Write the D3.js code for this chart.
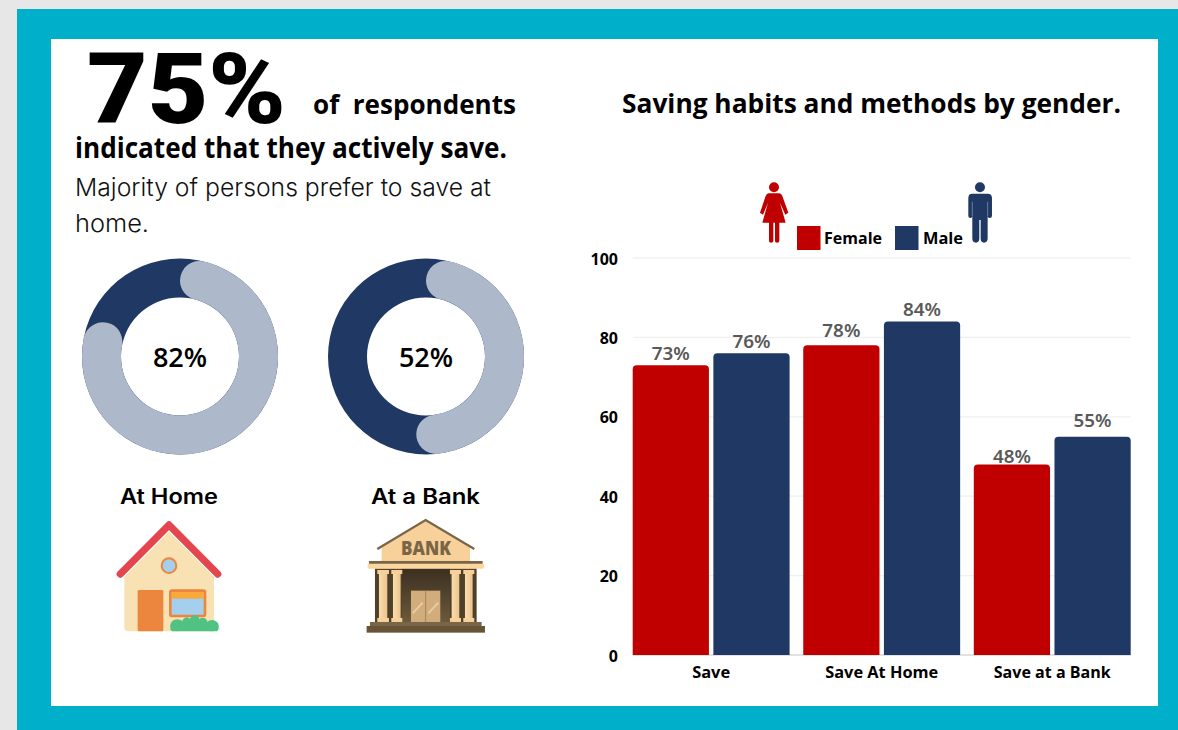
<!DOCTYPE html>
<html>
<head>
<meta charset="utf-8">
<script src="https://cdn.jsdelivr.net/npm/d3@7/dist/d3.min.js"></script>
<style>
  html, body { margin: 0; padding: 0; background: #e7e7e7; overflow: hidden; }
  svg { display: block; }
  text { font-family: "Open Sans", sans-serif; fill: #000; white-space: pre; }
  .head { font-family: Inter, sans-serif; }
  .big { font-family: Roboto, sans-serif; }
</style>
</head>
<body>
<svg id="page" width="1178" height="730"></svg>
<script>
// Chart values
const categories = ["Save", "Save At Home", "Save at a Bank"];
const seriesNames = ["Female", "Male"];
const femaleValues = [73, 78, 48];
const maleValues = [76, 84, 55];
const tickValues = [0, 20, 40, 60, 80, 100];
const donutValues = [82, 52];
const donutLabels = ["At Home", "At a Bank"];
const headlineValue = 75;

const RED = "#c00000", NAVY = "#203864", PALE = "#adb9ca";
const svg = d3.select("#page");

// Page frame
svg.append("rect").attr("x", 17).attr("y", 9).attr("width", 1161).attr("height", 721).attr("fill", "#00afc9");
svg.append("rect").attr("x", 51).attr("y", 39).attr("width", 1107).attr("height", 667).attr("fill", "#fff");

// Places one line of text and stretches it to the width it should occupy
function line(txt, x, y, size, weight, width, cls) {
  const t = svg.append("text").attr("x", x).attr("y", y)
    .attr("font-size", size).attr("font-weight", weight).text(txt);
  if (cls) t.attr("class", cls);
  if (width) t.attr("textLength", width).attr("lengthAdjust", "spacingAndGlyphs");
  return t;
}
line(headlineValue + "%", 87, 123, 98, 900, 199, "big");
line("of  respondents", 313, 114, 27, 700, 203);
line("indicated that they actively save.", 75, 158, 28, 700, 432);
line("Majority of persons prefer to save at", 75, 196, 24, 300, 416, "head").style("fill", "#111");
line("home.", 75, 232, 24, 300, 74, "head").style("fill", "#111");
line("Saving habits and methods by gender.", 622, 113, 27, 700, 499);

// Progress rings
const ringCentres = [180, 426];
const ringY = 356.5;
const arcGen = d3.arc().innerRadius(59).outerRadius(98).cornerRadius(19.5);
const share = d3.scaleLinear().domain([0, 100]).range([0, 2 * Math.PI]);
const rings = svg.selectAll("g.ring").data(donutValues).join("g")
  .attr("class", "ring")
  .attr("transform", (d, i) => `translate(${ringCentres[i]},${ringY})`);
rings.append("path").attr("d", d3.arc().innerRadius(59).outerRadius(98)({ startAngle: 0, endAngle: 2 * Math.PI })).attr("fill", NAVY);
rings.append("path").attr("d", d => arcGen({ startAngle: 0, endAngle: share(d) })).attr("fill", PALE);
rings.append("text").attr("text-anchor", "middle").attr("y", 10.5)
  .attr("font-size", 27).attr("font-weight", 600).text(d => d + "%");

const ringNameX = [120, 371], ringNameW = [98, 109];
donutLabels.forEach((d, i) => line(d, ringNameX[i], 504, 21, 600, ringNameW[i], "head"));

// House illustration
const house = svg.append("g").attr("transform", "translate(70,470) scale(0.3333)");
house.append("path").attr("d", "M163,320 L297,185 L432,320 V470 Q432,484 418,484 H177 Q163,484 163,470 Z").attr("fill", "#f8e1b2");
house.append("path").attr("d", "M151,312 L297,165 L443,312").attr("fill", "none").attr("stroke", "#e3464f").attr("stroke-width", 22).attr("stroke-linecap", "round").attr("stroke-linejoin", "round");
house.append("circle").attr("cx", 297).attr("cy", 287).attr("r", 22).attr("fill", "#a5cfee").attr("stroke", "#ec853e").attr("stroke-width", 6);
house.append("rect").attr("x", 203).attr("y", 360).attr("width", 77).attr("height", 124).attr("rx", 4).attr("fill", "#ec853e");
house.append("rect").attr("x", 301).attr("y", 362).attr("width", 104).attr("height", 76).attr("rx", 5).attr("fill", "#a5cfee").attr("stroke", "#ec853e").attr("stroke-width", 8);
house.append("rect").attr("x", 305).attr("y", 366).attr("width", 96).attr("height", 20).attr("fill", "#f9a83a");
const bush = [[322, 466, 21, 18], [350, 458, 14, 16], [374, 452, 15, 17], [398, 458, 14, 15], [426, 467, 20, 17]];
house.selectAll("ellipse").data(bush).join("ellipse")
  .attr("cx", d => d[0]).attr("cy", d => d[1]).attr("rx", d => d[2]).attr("ry", d => d[3]).attr("fill", "#50c283");
house.append("rect").attr("x", 301).attr("y", 463).attr("width", 145).attr("height", 21).attr("rx", 10).attr("fill", "#50c283");

// Bank illustration
const bank = svg.append("g").attr("transform", "translate(70,470) scale(0.3333)");
const BROWN = "#7a6646", SAND = "#f7d09a";
const defs = svg.append("defs");
const hall = defs.append("linearGradient").attr("id", "hall").attr("x1", 0).attr("y1", 0).attr("x2", 0).attr("y2", 1);
hall.append("stop").attr("offset", 0).attr("stop-color", "#3b2f20");
hall.append("stop").attr("offset", 1).attr("stop-color", "#6e5a3c");
const pillar = defs.append("linearGradient").attr("id", "pillar");
pillar.append("stop").attr("offset", 0).attr("stop-color", "#fbdcae");
pillar.append("stop").attr("offset", 1).attr("stop-color", "#ecc48d");
bank.append("path").attr("d", "M935,232 L1067,153 L1200,232 V274 H935 Z").attr("fill", SAND);
bank.append("path").attr("d", "M922,237 L1067,150 L1213,237").attr("fill", "none").attr("stroke", BROWN).attr("stroke-width", 7);
bank.append("text").attr("x", 1068).attr("y", 256).attr("text-anchor", "middle").attr("font-size", 56).attr("font-weight", 800)
  .attr("textLength", 150).attr("lengthAdjust", "spacingAndGlyphs").style("fill", BROWN).text("BANK");
bank.append("rect").attr("x", 897).attr("y", 273).attr("width", 341).attr("height", 9).attr("fill", BROWN);
bank.append("rect").attr("x", 915).attr("y", 295).attr("width", 305).attr("height", 165).attr("fill", "#4f4029");
bank.append("rect").attr("x", 995).attr("y", 295).attr("width", 145).attr("height", 165).attr("fill", "url(#hall)");
bank.append("rect").attr("x", 893).attr("y", 281).attr("width", 349).attr("height", 15).attr("rx", 4).attr("fill", "#fbd69f");
const columns = [[927, 25], [969, 23], [1145, 23], [1185, 23]];
columns.forEach(c => {
  bank.append("rect").attr("x", c[0]).attr("y", 300).attr("width", c[1]).attr("height", 156).attr("fill", "url(#pillar)");
  bank.append("rect").attr("x", c[0] - 5).attr("y", 300).attr("width", c[1] + 10).attr("height", 12).attr("fill", SAND);
  bank.append("rect").attr("x", c[0] - 5).attr("y", 444).attr("width", c[1] + 10).attr("height", 12).attr("fill", SAND);
});
bank.append("rect").attr("x", 1023).attr("y", 362).attr("width", 88).attr("height", 94).attr("fill", "#d2ad7c");
bank.append("path").attr("d", "M1067,362 V456").attr("stroke", "#8c734f").attr("stroke-width", 2);
bank.append("path").attr("d", "M1028,430 L1058,398 M1075,430 L1105,398").attr("stroke", "#e6cda4").attr("stroke-width", 6);
bank.append("rect").attr("x", 900).attr("y", 456).attr("width", 335).attr("height", 13).attr("fill", BROWN);
bank.append("rect").attr("x", 890).attr("y", 468).attr("width", 355).attr("height", 20).attr("fill", "#675436");

// Bar chart
const y = d3.scaleLinear().domain([0, 100]).range([655, 258]);
const x0 = d3.scaleBand().domain(categories).range([632.7, 1130.7]).paddingInner(0.08);
const x1 = d3.scaleBand().domain(seriesNames).range([0, x0.bandwidth()]).paddingInner(0.055);
const colour = d3.scaleOrdinal().domain(seriesNames).range([RED, NAVY]);

svg.append("g").selectAll("line").data(tickValues).join("line")
  .attr("x1", 632.7).attr("x2", 1130.7).attr("y1", d => y(d)).attr("y2", d => y(d))
  .attr("stroke-width", 1.3)
  .attr("stroke", d => d === 0 ? "#d9d9d9" : "#f0f0f0");

const yAxis = svg.append("g").attr("transform", "translate(625,1)")
  .call(d3.axisLeft(y).tickValues(tickValues).tickSize(0).tickPadding(7));
yAxis.select(".domain").remove();
yAxis.selectAll("text").attr("font-size", 16).attr("font-weight", 700).attr("font-family", '"Open Sans", sans-serif');

const xAxis = svg.append("g").attr("transform", "translate(0,655)")
  .call(d3.axisBottom(x0).tickSize(0).tickPadding(12));
xAxis.select(".domain").remove();
xAxis.selectAll("text").attr("font-size", 16).attr("font-weight", 700)
  .attr("font-family", '"Open Sans", sans-serif')
  .attr("textLength", (d, i) => [38, 113, 117][i]).attr("lengthAdjust", "spacingAndGlyphs");

// Bars with slightly rounded tops
const topRadius = 4;
const barRows = categories.flatMap((c, i) => [
  { c, s: "Female", v: femaleValues[i], lift: [5, 8, 1.5][i] },
  { c, s: "Male", v: maleValues[i], lift: [5, 5.5, 9.5][i] }
]);
function barPath(d) {
  const l = x0(d.c) + x1(d.s), r = l + x1.bandwidth(), t = y(d.v), b = y(0);
  return `M${l},${b}V${t + topRadius}Q${l},${t} ${l + topRadius},${t}H${r - topRadius}Q${r},${t} ${r},${t + topRadius}V${b}Z`;
}
svg.append("g").attr("class", "bars").selectAll("path").data(barRows).join("path")
  .attr("d", barPath).attr("fill", d => colour(d.s));
svg.append("g").selectAll("text").data(barRows).join("text")
  .attr("x", d => x0(d.c) + x1(d.s) + x1.bandwidth() / 2)
  .attr("y", d => y(d.v) - d.lift)
  .attr("text-anchor", "middle").attr("font-size", 18).attr("font-weight", 600)
  .style("font-family", '"Noto Sans", sans-serif').style("fill", "#595959")
  .attr("textLength", 38).attr("lengthAdjust", "spacingAndGlyphs")
  .text(d => d.v + "%");

// Legend
const legendX = [797, 895], legendTextX = [824, 923], legendTextW = [58, 40];
seriesNames.forEach((s, i) => {
  svg.append("rect").attr("x", legendX[i]).attr("y", 226).attr("width", 23.5).attr("height", 24).attr("fill", colour(s));
  line(s, legendTextX[i], 244, 16, 700, legendTextW[i]);
});

// Gender pictograms
const people = svg.append("g").attr("transform", "translate(740,170) scale(0.3333)");
people.append("circle").attr("cx", 102).attr("cy", 52).attr("r", 15).attr("fill", RED);
people.append("path").attr("fill", RED)
  .attr("d", "M86,70 H118 Q124,70 127,78 L145,128 L136,134 L120,98 L137,158 H67 L84,98 L69,134 L60,128 L77,78 Q80,70 86,70 Z");
people.append("path").attr("fill", RED)
  .attr("d", "M87,150 H100 V212 Q100,218 93,218 Q87,218 87,212 Z M105,150 H118 V212 Q118,218 111,218 Q105,218 105,212 Z");
people.append("circle").attr("cx", 720).attr("cy", 52).attr("r", 15).attr("fill", NAVY);
people.append("path").attr("fill", NAVY)
  .attr("d", "M697,71 H743 Q756,71 756,84 V138 Q756,144 749,144 Q743,144 743,138 V205 Q743,218 732,218 Q722,218 722,205 V150 H718 V205 Q718,218 708,218 Q697,218 697,205 V138 Q697,144 691,144 Q685,144 685,138 V84 Q685,71 697,71 Z");
people.append("path").attr("stroke", "#8fa0bb").attr("stroke-width", 2).attr("fill", "none")
  .attr("d", "M697,95 V138 M743,95 V138");
</script>
</body>
</html>
